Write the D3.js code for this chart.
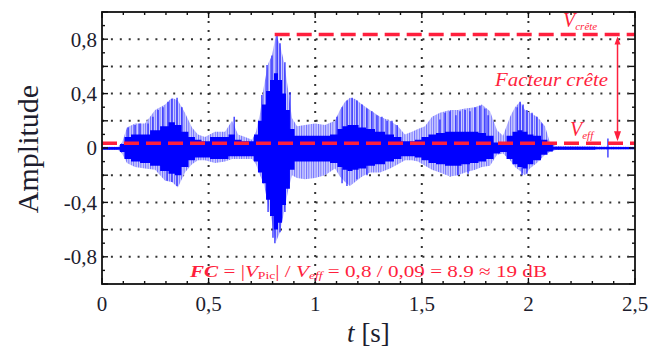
<!DOCTYPE html>
<html>
<head>
<meta charset="utf-8">
<script src="https://cdn.jsdelivr.net/npm/d3@7"></script>
<style>
  body { margin: 0; background: #fff; }
  text { font-family: "Liberation Serif", "Times New Roman", Times, serif; }
</style>
</head>
<body>
<div id="chart"></div>
<script>
// envelope of the speech signal
const envT    = [0, 0.075, 0.094, 0.117, 0.155, 0.202, 0.249, 0.296, 0.328, 0.356, 0.389, 0.422, 0.45, 0.483, 0.53, 0.577, 0.61, 0.638, 0.671, 0.704,
                 0.722, 0.741, 0.76, 0.779, 0.797, 0.816, 0.835, 0.854, 0.872, 0.891, 0.915, 0.952, 0.999, 1.046, 1.093, 1.116, 1.14, 1.163, 1.187, 1.22,
                 1.257, 1.304, 1.351, 1.388, 1.421, 1.454, 1.482, 1.515, 1.548, 1.585, 1.632, 1.67, 1.703, 1.75, 1.782, 1.82, 1.853, 1.881, 1.914, 1.937,
                 1.961, 1.984, 2.007, 2.04, 2.078, 2.101, 2.129, 2.5];
const envHi   = [0.01, 0.01, 0.04, 0.15, 0.18, 0.18, 0.28, 0.32, 0.37, 0.35, 0.26, 0.15, 0.1, 0.08, 0.12, 0.12, 0.2, 0.1, 0.08, 0.06,
                 0.12, 0.25, 0.46, 0.62, 0.68, 0.83, 0.76, 0.63, 0.44, 0.22, 0.16, 0.17, 0.18, 0.17, 0.2, 0.28, 0.34, 0.37, 0.36, 0.32,
                 0.28, 0.23, 0.2, 0.16, 0.1, 0.12, 0.14, 0.16, 0.23, 0.26, 0.28, 0.28, 0.29, 0.3, 0.32, 0.27, 0.13, 0.09, 0.23, 0.3,
                 0.34, 0.28, 0.26, 0.23, 0.16, 0.04, 0.015, 0.01];
const envLo   = [-0.015, -0.015, -0.04, -0.11, -0.14, -0.15, -0.16, -0.24, -0.25, -0.29, -0.18, -0.12, -0.09, -0.09, -0.11, -0.1, -0.08, -0.08, -0.08, -0.08,
                 -0.12, -0.2, -0.27, -0.42, -0.54, -0.69, -0.62, -0.47, -0.32, -0.2, -0.22, -0.23, -0.22, -0.2, -0.15, -0.21, -0.25, -0.28, -0.25, -0.21,
                 -0.18, -0.18, -0.15, -0.12, -0.09, -0.09, -0.1, -0.13, -0.16, -0.18, -0.21, -0.2, -0.18, -0.16, -0.14, -0.13, -0.05, -0.04, -0.09, -0.14,
                 -0.17, -0.2, -0.15, -0.11, -0.05, -0.03, -0.015, -0.01];
// dense dark part of the waveform
const coreHi  = [0.005, 0.005, 0.03, 0.08, 0.1, 0.1, 0.13, 0.16, 0.19, 0.17, 0.12, 0.08, 0.06, 0.05, 0.08, 0.08, 0.1, 0.06, 0.05, 0.05,
                 0.1, 0.2, 0.32, 0.42, 0.5, 0.55, 0.5, 0.4, 0.28, 0.14, 0.09, 0.09, 0.09, 0.09, 0.1, 0.14, 0.16, 0.17, 0.17, 0.15,
                 0.14, 0.12, 0.1, 0.08, 0.05, 0.05, 0.06, 0.08, 0.1, 0.11, 0.12, 0.12, 0.12, 0.12, 0.11, 0.09, 0.04, 0.04, 0.09, 0.12,
                 0.13, 0.12, 0.1, 0.09, 0.06, 0.025, 0.01, 0.005];
const coreLo  = [-0.012, -0.012, -0.03, -0.08, -0.1, -0.11, -0.13, -0.17, -0.19, -0.2, -0.14, -0.09, -0.07, -0.07, -0.08, -0.08, -0.06, -0.06, -0.06, -0.06,
                 -0.1, -0.18, -0.26, -0.38, -0.5, -0.6, -0.55, -0.42, -0.3, -0.16, -0.1, -0.1, -0.1, -0.1, -0.11, -0.14, -0.16, -0.17, -0.16, -0.15,
                 -0.13, -0.12, -0.1, -0.08, -0.06, -0.06, -0.07, -0.09, -0.11, -0.12, -0.13, -0.13, -0.12, -0.11, -0.1, -0.08, -0.04, -0.03, -0.08, -0.12,
                 -0.14, -0.15, -0.12, -0.09, -0.05, -0.025, -0.012, -0.01];
// pitch pulses that stick out of the envelope (time, tip amplitude)
const spikeT  = [0.122, 0.155, 0.178, 0.216, 0.239, 0.263, 0.286, 0.31, 0.328, 0.352, 0.375, 0.305, 0.352, 0.328,
                 0.62, 0.75, 0.774, 0.797, 0.821, 0.835, 0.858, 0.882, 0.779, 0.802, 0.811, 0.835, 0.858,
                 1.102, 1.126, 1.149, 1.173, 1.196, 1.22, 1.243, 1.266, 1.29, 1.313, 1.337, 1.36, 1.384, 1.126, 1.149, 1.196, 1.243,
                 1.585, 1.609, 1.632, 1.66,
                 1.679, 1.703, 1.726, 1.75, 1.773, 1.796, 1.811, 1.947, 1.961, 1.975, 1.993, 2.017, 2.04, 2.064, 1.67, 1.717, 1.97, 1.993,
                 2.373, 2.373];
const spikeA  = [0.15, 0.17, 0.18, 0.18, 0.23, 0.28, 0.3, 0.34, 0.36, 0.37, 0.3, -0.24, -0.28, -0.25,
                 0.23, 0.39, 0.61, 0.68, 0.83, 0.77, 0.63, 0.41, -0.47, -0.66, -0.7, -0.62, -0.47,
                 0.23, 0.3, 0.35, 0.37, 0.35, 0.32, 0.29, 0.27, 0.24, 0.23, 0.2, 0.2, 0.17, -0.26, -0.28, -0.23, -0.2,
                 0.21, 0.26, 0.27, 0.24,
                 0.27, 0.28, 0.27, 0.3, 0.31, 0.29, 0.24, 0.3, 0.34, 0.32, 0.28, 0.26, 0.23, 0.18, -0.2, -0.19, -0.2, -0.19,
                 0.07, -0.07];

const vCrete = 0.835;     // red dashed peak level
const vCreteStart = 0.81;
const vEff = 0.035;       // red dashed rms level
const arrowT = 2.418;

const xTicks = [0, 0.5, 1, 1.5, 2, 2.5];
const xTickLabels = ['0', '0,5', '1', '1,5', '2', '2,5'];
const yTicks = [0.8, 0.4, 0, -0.4, -0.8];
const yTickLabels = ['0,8', '0,4', '0', '-0,4', '-0,8'];

const margin = { top: 12, right: 16, bottom: 65, left: 102 };
const W = 651, H = 349;
const width = W - margin.left - margin.right;
const height = H - margin.top - margin.bottom;
const red = '#ff1f3d';

const svg = d3.select('#chart').append('svg')
    .attr('width', W)
    .attr('height', H);

const defs = svg.append('defs');
defs.append('clipPath').attr('id', 'clip')
  .append('rect').attr('width', width).attr('height', height);
const pat = defs.append('pattern').attr('id', 'stripes')
    .attr('patternUnits', 'userSpaceOnUse')
    .attr('width', 2.4).attr('height', 10);
pat.append('rect').attr('width', 2.4).attr('height', 10).attr('fill', '#d2d2ff');
pat.append('rect').attr('width', 1).attr('height', 10).attr('fill', '#6e6eff');

const g = svg.append('g')
    .attr('transform', `translate(${margin.left},${margin.top})`);

const x = d3.scaleLinear().domain([0, 2.5]).range([0, width]);
const y = d3.scaleLinear().domain([-1, 1]).range([height, 0]);

// dotted grid
const gridY = d3.range(-0.8, 0.81, 0.2).map(v => +v.toFixed(1));
g.append('g').selectAll('line').data(gridY).enter().append('line')
    .attr('x1', 0).attr('x2', width)
    .attr('y1', d => y(d)).attr('y2', d => y(d))
    .attr('stroke', '#333').attr('stroke-width', 2)
    .attr('stroke-dasharray', '2 6.9');
g.append('g').selectAll('line').data([0.5, 1, 1.5, 2]).enter().append('line')
    .attr('x1', d => x(d)).attr('x2', d => x(d))
    .attr('y1', 0).attr('y2', height)
    .attr('stroke', '#333').attr('stroke-width', 2)
    .attr('stroke-dasharray', '2 7');

// signal
const sig = g.append('g').attr('clip-path', 'url(#clip)');
const env = envT.map((t, i) => ({ t, hi: envHi[i], lo: envLo[i], chi: coreHi[i], clo: coreLo[i] }));
sig.append('path').datum(env)
    .attr('fill', 'url(#stripes)')
    .attr('d', d3.area().x(d => x(d.t)).y0(d => y(d.lo)).y1(d => y(d.hi)));
sig.selectAll('.spike').data(spikeT).enter().append('line')
    .attr('class', 'spike')
    .attr('x1', d => x(d)).attr('x2', d => x(d))
    .attr('y1', y(0)).attr('y2', (d, i) => y(spikeA[i]))
    .attr('stroke', '#2a2aff').attr('stroke-width', 1.3);
sig.append('path').datum(env)
    .attr('fill', '#0000ff')
    .attr('d', d3.area().curve(d3.curveStep).x(d => x(d.t)).y0(d => y(d.clo)).y1(d => y(d.chi)));
sig.append('line')
    .attr('x1', 0).attr('x2', width).attr('y1', y(0)).attr('y2', y(0))
    .attr('stroke', '#0000ff').attr('stroke-width', 1.5);

// red reference levels
g.append('line')
    .attr('x1', x(vCreteStart)).attr('x2', width)
    .attr('y1', y(vCrete)).attr('y2', y(vCrete))
    .attr('stroke', red).attr('stroke-width', 3.5).attr('stroke-dasharray', '15 7');
g.append('line')
    .attr('x1', 0).attr('x2', width)
    .attr('y1', y(vEff)).attr('y2', y(vEff))
    .attr('stroke', red).attr('stroke-width', 3.5).attr('stroke-dasharray', '15 7');

// double arrow "facteur crete"
const ax = x(arrowT), aTop = y(vCrete) + 2, aBot = y(vEff) - 2;
g.append('line').attr('x1', ax).attr('x2', ax).attr('y1', aTop + 3).attr('y2', aBot - 3)
    .attr('stroke', red).attr('stroke-width', 1.5);
g.append('path').attr('fill', red)
    .attr('d', `M${ax},${aTop}l-3,8h6z M${ax},${aBot}l-3.5,-10h7z`);

// box, ticks
g.append('rect').attr('width', width).attr('height', height)
    .attr('fill', 'none').attr('stroke', '#111').attr('stroke-width', 1.8);

const minorY = d3.range(-1, 1.001, 0.1).map(v => +v.toFixed(1));
const tk = g.append('g').attr('stroke', '#111').attr('stroke-width', 1.4);
minorY.forEach(v => {
  const major = Math.abs(Math.round(v * 10)) % 2 === 0;
  const L = major ? 6 : 3;
  tk.append('line').attr('x1', 0).attr('x2', L).attr('y1', y(v)).attr('y2', y(v));
  tk.append('line').attr('x1', width - L).attr('x2', width).attr('y1', y(v)).attr('y2', y(v));
});
const minorX = d3.range(0, 2.501, 0.1).map(v => +v.toFixed(1));
minorX.forEach(v => {
  const major = Math.round(v * 10) % 5 === 0;
  const L = major ? 6 : 3;
  tk.append('line').attr('x1', x(v)).attr('x2', x(v)).attr('y1', height).attr('y2', height - L);
  tk.append('line').attr('x1', x(v)).attr('x2', x(v)).attr('y1', 0).attr('y2', L);
});

// tick labels
g.append('g').selectAll('text').data(yTicks).enter().append('text')
    .attr('x', -5).attr('y', d => y(d)).attr('dy', '0.35em')
    .attr('text-anchor', 'end').attr('font-size', 21).attr('fill', '#1d1d2e')
    .text((d, i) => yTickLabels[i]);
g.append('g').selectAll('text').data(xTicks).enter().append('text')
    .attr('x', d => x(d)).attr('y', height + 27)
    .attr('text-anchor', 'middle').attr('font-size', 21).attr('fill', '#1d1d2e')
    .text((d, i) => xTickLabels[i]);

// axis titles
svg.append('text')
    .attr('transform', `translate(38,${margin.top + height / 2 + 1}) rotate(-90)`)
    .attr('text-anchor', 'middle').attr('font-size', 30).attr('fill', '#1d1d2e')
    .text('Amplitude');
const xt = svg.append('text')
    .attr('x', margin.left + width / 2).attr('y', 342)
    .attr('text-anchor', 'middle').attr('font-size', 27).attr('fill', '#1d1d2e');
xt.append('tspan').attr('font-style', 'italic').text('t');
xt.append('tspan').text(' [s]');

// annotations
const vc = g.append('text').attr('x', 461).attr('y', 15)
    .attr('fill', red).attr('font-style', 'italic');
vc.append('tspan').attr('font-size', 20).text('V');
vc.append('tspan').attr('font-size', 11).attr('dy', 3).text('crête');

g.append('text').attr('x', 393).attr('y', 74)
    .attr('fill', red).attr('font-style', 'italic').attr('font-size', 19)
    .attr('textLength', 113).attr('lengthAdjust', 'spacingAndGlyphs')
    .text('Facteur crête');

const ve = g.append('text').attr('x', 468).attr('y', 124)
    .attr('fill', red).attr('font-style', 'italic');
ve.append('tspan').attr('font-size', 20).text('V');
ve.append('tspan').attr('font-size', 11).attr('dy', 3).text('eff');

const fc = g.append('text').attr('x', 88).attr('y', 265)
    .attr('fill', red).attr('font-size', 17)
    .attr('textLength', 357).attr('lengthAdjust', 'spacingAndGlyphs');
fc.append('tspan').attr('font-style', 'italic').attr('font-weight', 'bold').text('FC');
fc.append('tspan').text(' = |');
fc.append('tspan').attr('font-style', 'italic').text('V');
fc.append('tspan').attr('font-size', 11).attr('dy', 2).text('Pic');
fc.append('tspan').attr('dy', -2).text('| / ');
fc.append('tspan').attr('font-style', 'italic').text('V');
fc.append('tspan').attr('font-style', 'italic').attr('font-size', 11).attr('dy', 2).text('eff');
fc.append('tspan').attr('dy', -2).text(' = 0,8 / 0,09 = 8.9 ≈ 19 dB');
</script>
</body>
</html>
